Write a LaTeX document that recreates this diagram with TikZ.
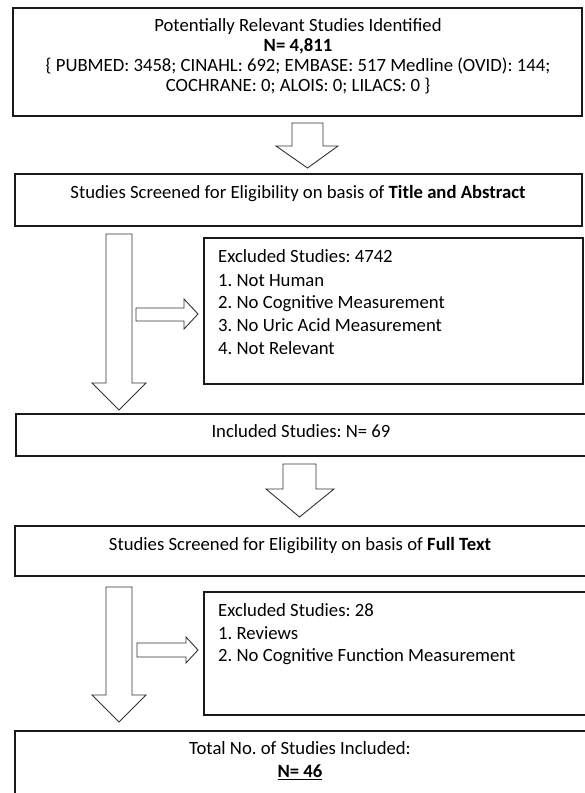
\documentclass[tikz,border=0pt]{standalone}
\usepackage{fontspec}
\setmainfont{Carlito}

\begin{document}
\frenchspacing
\begin{tikzpicture}[x=1pt,y=-1pt,
	box/.style={draw=black!90,line width=1.2pt,inner sep=0pt,outer sep=0pt,anchor=north west},
	blockarrow/.style={draw=black!80,line width=0.9pt,fill=white,line join=miter},
	txt/.style={inner sep=0pt,font=\fontsize{18.7}{20}\selectfont,text height=0.85em,text depth=0pt}]
	\useasboundingbox (0,0) rectangle (585,793);
	\clip (0,0) rectangle (585,793);
	
		% boxes
		\node[box,minimum width=569pt,minimum height=108pt] (idbox) at (13,8) {};
		\node[box,minimum width=567pt,minimum height=52pt] (titlebox) at (15,174) {};
		\node[box,minimum width=379pt,minimum height=146pt] (excla) at (204,238) {};
		\node[box,minimum width=572pt,minimum height=42pt] (inclbox) at (16,414) {};
		\node[box,minimum width=573pt,minimum height=50pt] (fullbox) at (15,526) {};
		\node[box,minimum width=384pt,minimum height=123pt] (exclb) at (204,592) {};
		\node[box,minimum width=573pt,minimum height=80pt] (totalbox) at (15,731) {};
		
		
		\node[txt] (ident) at (298,27) {Potentially Relevant Studies Identified};
		\node[txt] (identn) at (298,47) {\textbf{N= 4,811}};
		\node[txt] (dbsa) at (298,67) {\{ PUBMED: 3458; CINAHL: 692; EMBASE: 517 Medline (OVID): 144;};
		\node[txt] (dbsb) at (298,87) {COCHRANE: 0; ALOIS: 0; LILACS: 0 \}};
		
		\node[txt] (titletxt) at (298,194) {Studies Screened for Eligibility on basis of \textbf{Title and Abstract}};
		
		\node[txt,anchor=west] (exclahead) at (218,258) {Excluded Studies: 4742};
		\node[txt,anchor=west] (exclaone) at (218,282) {1. Not Human};
		\node[txt,anchor=west] (exclatwo) at (218,304) {2. No Cognitive Measurement};
		\node[txt,anchor=west] (exclathree) at (218,327) {3. No Uric Acid Measurement};
		\node[txt,anchor=west] (exclafour) at (218,350) {4. Not Relevant};
		
		\node[txt] (incltxt) at (301,433) {Included Studies: N= 69};
		
		\node[txt] (fulltxt) at (300,546) {Studies Screened for Eligibility on basis of \textbf{Full Text}};
		
		\node[txt,anchor=west] (exclbhead) at (218,612) {Excluded Studies: 28};
		\node[txt,anchor=west] (exclbone) at (218,635) {1. Reviews};
		\node[txt,anchor=west] (exclbtwo) at (218,657) {2. No Cognitive Function Measurement};
		
		\node[txt] (totaltxt) at (300,750) {Total No. of Studies Included:};
		\node[txt] (totaln) at (300,773) {\underline{\textbf{N= 46}}};
		
		
		% block arrows
		\draw[blockarrow] (292,123) -- (323,123) -- (323,146) -- (338,146) -- (307.5,168) -- (276,146) -- (292,146) -- cycle;
		
		\draw[blockarrow] (106,234) -- (132,234) -- (132,383) -- (146,383) -- (119,410) -- (92,383) -- (106,383) -- cycle;
		\draw[blockarrow] (136,308) -- (184,308) -- (184,299) -- (198,314) -- (184,329) -- (184,321) -- (136,321) -- cycle;
		
		\draw[blockarrow] (283,464) -- (316,464) -- (316,489) -- (334,489) -- (299.5,517) -- (266,489) -- (283,489) -- cycle;
		
		\draw[blockarrow] (106,587) -- (132,587) -- (132,695) -- (146,695) -- (119,722) -- (92,695) -- (106,695) -- cycle;
		\draw[blockarrow] (137,643) -- (186,643) -- (186,637) -- (198,650) -- (186,663) -- (186,657) -- (137,657) -- cycle;
	
	\end{tikzpicture}
\end{document}
